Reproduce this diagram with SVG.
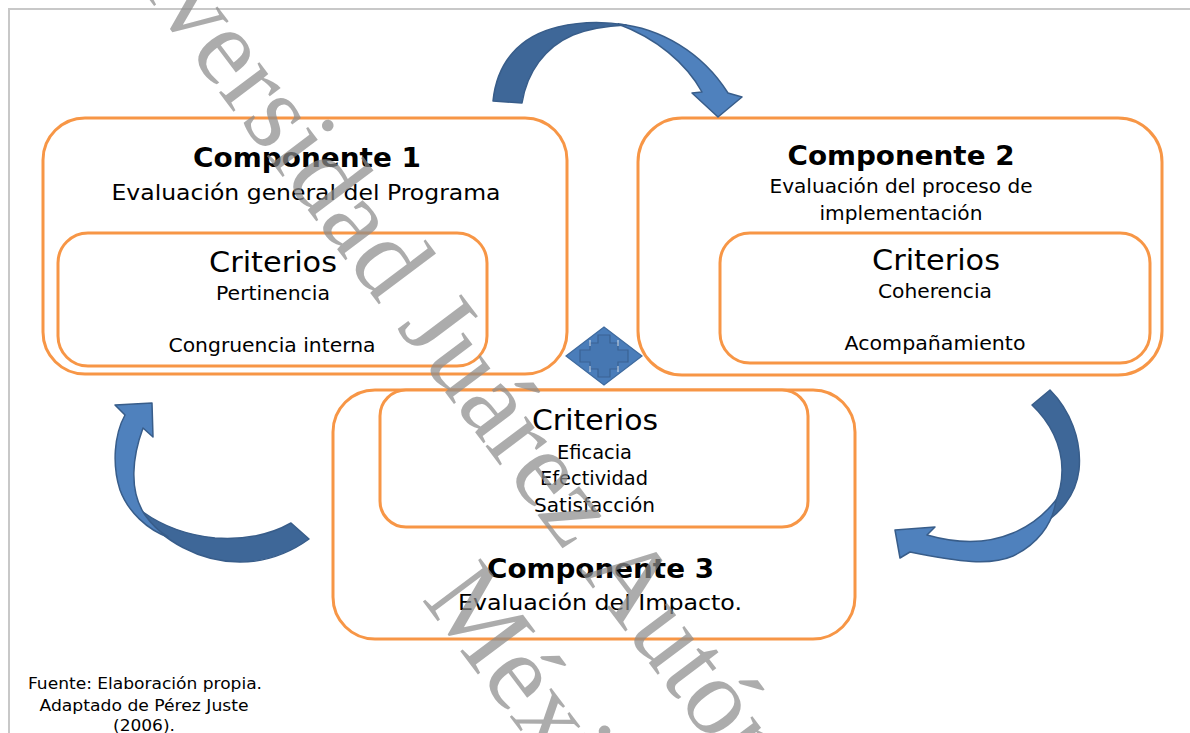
<svg xmlns="http://www.w3.org/2000/svg" width="1190" height="733" viewBox="0 0 1190 733">
<defs>
<style>
.box{fill:#ffffff;stroke:#F79646;stroke-width:3}
.t{font-family:"DejaVu Sans","Liberation Sans",sans-serif;fill:#000;text-anchor:middle}
.title{font-weight:bold;font-size:26px}
.sub{font-size:21px}
.crit{font-size:28px}
.item{font-size:19px}
.src{font-size:16px}
.light{fill:#4F81BD;stroke:#385D8A;stroke-width:1.5;stroke-linejoin:round}
.dark{fill:#3E6798;stroke:#385D8A;stroke-width:1.5;stroke-linejoin:round}
.wm{font-family:"Liberation Serif",serif;font-size:110px;fill:#8c8c8c;fill-opacity:0.72}
</style>
</defs>
<rect width="1190" height="733" fill="#ffffff"/>
<path d="M9,740 L9,9 L1195,9" fill="none" stroke="#c8c8c8" stroke-width="2"/>

<g id="componente1">
<rect class="box" x="43" y="118" width="524" height="256" rx="42"/>
<text class="t title" x="307" y="167" textLength="228" lengthAdjust="spacingAndGlyphs">Componente 1</text>
<text class="t sub" x="306" y="200" textLength="389" lengthAdjust="spacingAndGlyphs">Evaluación general del Programa</text>
<rect class="box" x="58" y="233" width="429" height="133" rx="30"/>
<text class="t crit" x="273" y="272" textLength="128" lengthAdjust="spacingAndGlyphs">Criterios</text>
<text class="t item" x="273" y="300" textLength="114" lengthAdjust="spacingAndGlyphs">Pertinencia</text>
<text class="t item" x="272" y="352" textLength="207" lengthAdjust="spacingAndGlyphs">Congruencia interna</text>
</g>

<g id="componente2">
<rect class="box" x="638" y="118" width="524" height="257" rx="44"/>
<text class="t title" x="901" y="165" textLength="227" lengthAdjust="spacingAndGlyphs">Componente 2</text>
<text class="t item" x="901" y="193" textLength="263" lengthAdjust="spacingAndGlyphs">Evaluación del proceso de</text>
<text class="t item" x="901" y="220" textLength="163" lengthAdjust="spacingAndGlyphs">implementación</text>
<rect class="box" x="720" y="233" width="430" height="130" rx="30"/>
<text class="t crit" x="936" y="270" textLength="128" lengthAdjust="spacingAndGlyphs">Criterios</text>
<text class="t item" x="935" y="298" textLength="114" lengthAdjust="spacingAndGlyphs">Coherencia</text>
<text class="t item" x="935" y="350" textLength="181" lengthAdjust="spacingAndGlyphs">Acompañamiento</text>
</g>

<g id="componente3">
<rect class="box" x="333" y="390" width="522" height="249" rx="42"/>
<rect class="box" x="380" y="390" width="428" height="137" rx="26"/>
<text class="t crit" x="595" y="430" textLength="126" lengthAdjust="spacingAndGlyphs">Criterios</text>
<text class="t item" x="594.5" y="459" textLength="75" lengthAdjust="spacingAndGlyphs">Eficacia</text>
<text class="t item" x="594" y="485" textLength="108" lengthAdjust="spacingAndGlyphs">Efectividad</text>
<text class="t item" x="594.5" y="512" textLength="121" lengthAdjust="spacingAndGlyphs">Satisfacción</text>
<text class="t title" x="600.5" y="578" textLength="227" lengthAdjust="spacingAndGlyphs">Componente 3</text>
<text class="t sub" x="600" y="610" textLength="284" lengthAdjust="spacingAndGlyphs">Evaluación del Impacto.</text>
</g>

<g id="centro">
<polygon points="566,356 604,327 642,356 604,385" fill="#4A7DBA" stroke="#3E6A9E" stroke-width="1.2"/>
<polygon points="598,335 610,335 610,343 618,343 618,350 628,350 628,362 618,362 618,369 610,369 610,377 598,377 598,369 590,369 590,362 580,362 580,350 590,350 590,343 598,343" fill="#4677B2" stroke="#3A6394" stroke-width="1.2"/>
<g stroke="#ffffff" stroke-width="1" stroke-opacity="0.8">
<line x1="590" y1="340" x2="590" y2="346"/><line x1="618" y1="340" x2="618" y2="346"/>
<line x1="590" y1="366" x2="590" y2="372"/><line x1="618" y1="366" x2="618" y2="372"/>
</g>
</g>

<g id="conectores">
<path class="dark" d="M493,101 C497,62 520,36 558,27 C583,21 608,22 626,25 C605,26 588,29 573,35 C545,47 527,72 522,103 Z"/>
<path class="light" d="M618,24 C660,28 702,52 728,93 L742,97 L718,117 L692,93 L702,92 C686,63 656,38 618,24 Z"/>
<path class="dark" d="M143,512 C160,540 200,562 240,562 C267,562 291,552 309,539 L291,523 C270,535 245,540 215,538 C186,535 161,525 143,512 Z"/>
<path class="light" d="M152,403 L153,437 L143,428 C133,455 128,490 145,515 C152,525 160,532 168,537 C148,530 128,512 120,490 C112,465 114,435 125,415 L115,405 Z"/>
<path class="dark" d="M1032,405 L1050,390 C1070,410 1082,440 1079,470 C1076,495 1060,515 1037,527 C1052,512 1062,495 1062,470 C1062,445 1050,422 1032,405 Z"/>
<path class="light" d="M895,530 L935,527 L927,535 C955,543 985,545 1013,533 C1030,526 1045,514 1056,500 C1053,525 1036,545 1013,556 C990,566 960,562 910,552 L900,558 Z"/>
</g>

<g id="fuente">
<text class="t src" x="145" y="689" textLength="234" lengthAdjust="spacingAndGlyphs">Fuente: Elaboración propia.</text>
<text class="t src" x="144" y="711" textLength="209" lengthAdjust="spacingAndGlyphs">Adaptado de Pérez Juste</text>
<text class="t src" x="144" y="731" textLength="62" lengthAdjust="spacingAndGlyphs">(2006).</text>
</g>

<g id="marca">
<text class="wm" transform="translate(56,-124) rotate(53)">Universidad Juárez Autónoma de Tabasco</text>
<text class="wm" transform="translate(421,599) rotate(53)">México</text>
</g>
</svg>
